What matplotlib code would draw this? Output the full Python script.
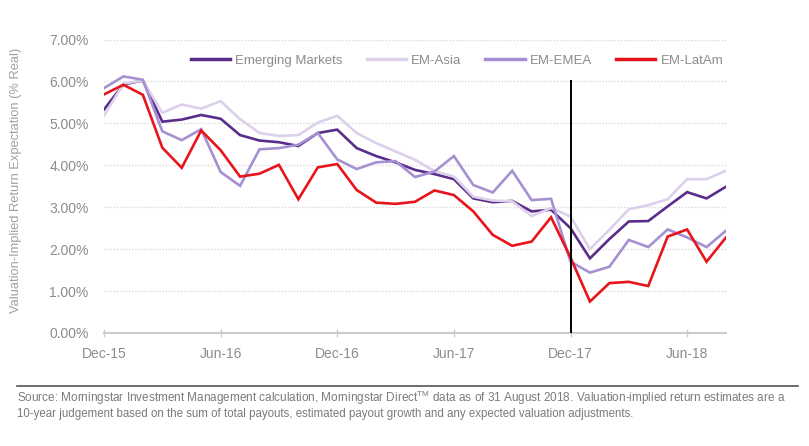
import matplotlib
matplotlib.use("Agg")
import matplotlib.pyplot as plt
import numpy as np

months = ["Dec-15", "Jan-16", "Feb-16", "Mar-16", "Apr-16", "May-16", "Jun-16", "Jul-16",
          "Aug-16", "Sep-16", "Oct-16", "Nov-16", "Dec-16", "Jan-17", "Feb-17", "Mar-17",
          "Apr-17", "May-17", "Jun-17", "Jul-17", "Aug-17", "Sep-17", "Oct-17", "Nov-17",
          "Dec-17", "Jan-18", "Feb-18", "Mar-18", "Apr-18", "May-18", "Jun-18", "Jul-18", "Aug-18"]

em = [5.33, 5.93, 6.02, 5.04, 5.09, 5.20, 5.11, 4.72, 4.59, 4.55, 4.46, 4.77, 4.85, 4.41, 4.22, 4.07,
      3.89, 3.79, 3.67, 3.21, 3.12, 3.15, 2.90, 2.94, 2.50, 1.78, 2.24, 2.66, 2.67, 3.02, 3.36, 3.21, 3.49]
asia = [5.18, 5.95, 6.02, 5.25, 5.45, 5.35, 5.53, 5.10, 4.77, 4.70, 4.72, 5.02, 5.18, 4.77, 4.53, 4.33,
        4.13, 3.86, 3.73, 3.25, 3.16, 3.14, 2.79, 2.98, 2.78, 2.00, 2.46, 2.95, 3.05, 3.19, 3.67, 3.67, 3.87]
emea = [5.84, 6.12, 6.04, 4.81, 4.60, 4.86, 3.84, 3.51, 4.38, 4.41, 4.49, 4.77, 4.14, 3.91, 4.07, 4.10,
        3.72, 3.85, 4.22, 3.53, 3.35, 3.87, 3.17, 3.20, 1.70, 1.44, 1.58, 2.22, 2.05, 2.47, 2.28, 2.05, 2.44]
latam = [5.69, 5.92, 5.68, 4.42, 3.94, 4.83, 4.36, 3.73, 3.80, 4.01, 3.19, 3.95, 4.03, 3.41, 3.11, 3.08,
         3.13, 3.40, 3.29, 2.90, 2.34, 2.08, 2.18, 2.76, 1.80, 0.75, 1.19, 1.22, 1.12, 2.30, 2.47, 1.70, 2.28]

series_names = ["Emerging Markets", "EM-Asia", "EM-EMEA", "EM-LatAm"]
tick_labels = ["Dec-15", "Jun-16", "Dec-16", "Jun-17", "Dec-17", "Jun-18"]
marker_month = "Dec-17"

plt.rcParams['font.family'] = ['Liberation Sans', 'DejaVu Sans']
plt.rcParams['mathtext.fontset'] = 'custom'
plt.rcParams['mathtext.rm'] = 'Liberation Sans'

fig = plt.figure(figsize=(8.09, 4.46), dpi=100)
ax = fig.add_axes([104/809, 1 - 333/446, (726 - 104)/809, (333 - 39.5)/446])

x = np.arange(len(months))
colors = ["#5a2d8c", "#dcd0ea", "#a690d2", "#e8141b"]
order = [1, 2, 0, 3]
data = [em, asia, emea, latam]
lines = {}
for k in order:
    ln, = ax.plot(x, data[k], color=colors[k], lw=1.9, label=series_names[k], zorder=3 + k,
                  solid_joinstyle='miter')
    lines[k] = ln

ax.set_ylim(0, 7.0)
ax.set_xlim(0, len(months) - 1)
yt = np.arange(0, 7.01, 1.0)
ax.set_yticks(yt)
ax.set_yticklabels([f"{v:.2f}%" for v in yt])
ax.grid(axis='y', color='#dadada', linestyle=(0, (1, 1.2)), lw=1.0)
ax.set_axisbelow(True)

tick_pos = [months.index(t) for t in tick_labels]
ax.set_xticks(tick_pos)
ax.set_xticklabels(tick_labels)

for s in ['top', 'right', 'left']:
    ax.spines[s].set_visible(False)
ax.spines['bottom'].set_color('#cccccc')
ax.spines['bottom'].set_linewidth(1.5)

ax.tick_params(axis='y', length=0, labelsize=10, labelcolor='#8c8c8c', pad=11)
ax.tick_params(axis='x', length=6, direction='inout', color='#cccccc', width=1,
               labelsize=10, labelcolor='#8c8c8c', pad=7)

mi = months.index(marker_month)
ax.plot([mi, mi], [0, 6.0], color='black', lw=1.4, zorder=10)

ax.set_ylabel("Valuation-Implied Return Expectation (% Real)", fontsize=9.3, color='#a0a0a0')
ax.yaxis.set_label_coords(-0.132, 0.52)

handles = [lines[0], lines[1], lines[2], lines[3]]
leg = ax.legend(handles, series_names, loc='center', bbox_to_anchor=(457/809, 1 - 61/446),
                bbox_transform=fig.transFigure, ncol=4,
                frameon=False, fontsize=9.5, handlelength=3.0, columnspacing=1.8, handletextpad=0.38,
                labelcolor='#8c8c8c')
for h in leg.get_lines():
    h.set_linewidth(2.5)

fig.add_artist(plt.Line2D([17/809, 798/809], [1 - 386/446, 1 - 386/446], color='#555555', lw=1.2))
fig.text(17/809, 1 - 398/446,
         "Source: Morningstar Investment Management calculation, Morningstar Direct$^{\\mathrm{TM}}$ data as of 31 August 2018. "
         "Valuation-implied return estimates are a", fontsize=8.45, color='#7a7a7a', va='center', ha='left')
fig.text(17/809, 1 - 414/446,
         "10-year judgement based on the sum of total payouts, estimated payout growth and any expected valuation adjustments.",
         fontsize=8.3, color='#7a7a7a', va='center', ha='left')

fig.savefig("out.png", dpi=100)
